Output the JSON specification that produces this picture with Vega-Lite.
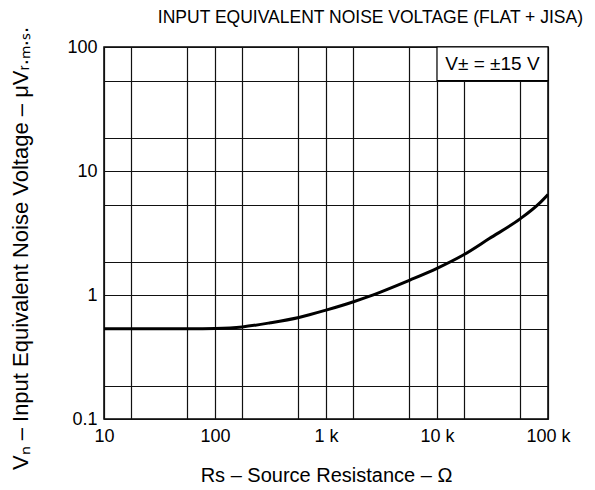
{
  "$schema": "https://vega.github.io/schema/vega-lite/v6.json",
  "width": 444,
  "height": 372,
  "autosize": "none",
  "padding": {"left": 104, "top": 47, "right": 47, "bottom": 71},
  "background": "white",
  "config": {
    "font": "Liberation Sans",
    "view": {"stroke": "black", "strokeWidth": 1.5},
    "axis": {
      "grid": true,
      "gridColor": "#111111",
      "gridWidth": 1.2,
      "gridOpacity": 1,
      "ticks": false,
      "domain": false,
      "labelColor": "black",
      "titleColor": "black",
      "titleFontWeight": "normal",
      "labelFlush": false,
      "labelOverlap": false,
      "labelBound": false
    }
  },
  "title": {
    "text": "INPUT EQUIVALENT NOISE VOLTAGE (FLAT + JISA)",
    "anchor": "end",
    "frame": "group",
    "dx": 35,
    "dy": 20,
    "offset": 20,
    "font": "Liberation Sans",
    "fontSize": 17.5,
    "fontWeight": "normal",
    "color": "black"
  },
  "datasets": {
    "curve": [
      {"rs": 10, "vn": 0.535},
      {"rs": 30, "vn": 0.535},
      {"rs": 60, "vn": 0.535},
      {"rs": 100, "vn": 0.538},
      {"rs": 176, "vn": 0.553},
      {"rs": 316, "vn": 0.597},
      {"rs": 570, "vn": 0.659},
      {"rs": 1000, "vn": 0.755},
      {"rs": 1770, "vn": 0.883},
      {"rs": 2440, "vn": 0.975},
      {"rs": 5700, "vn": 1.32},
      {"rs": 10000, "vn": 1.64},
      {"rs": 17400, "vn": 2.11},
      {"rs": 29600, "vn": 2.85},
      {"rs": 56000, "vn": 4.11},
      {"rs": 84500, "vn": 5.54},
      {"rs": 100000, "vn": 6.47}
    ],
    "box": [
      {"x1": 10000, "x2": 100000, "y1": 53.5, "y2": 100, "xc": 31600, "yc": 73, "label": "V± = ±15 V"}
    ]
  },
  "layer": [
    {
      "data": {"name": "curve"},
      "mark": {"type": "line", "color": "black", "strokeWidth": 3, "interpolate": "monotone", "clip": true},
      "encoding": {
        "x": {
          "field": "rs",
          "type": "quantitative",
          "scale": {"type": "log", "domain": [10, 100000], "nice": false},
          "axis": {
            "title": "Rs – Source Resistance – Ω",
            "values": [10, 17.4, 56, 100, 174, 560, 1000, 1740, 5600, 10000, 17400, 56000, 100000],
            "labelExpr": "datum.value == 10 ? '10' : datum.value == 100 ? '100' : datum.value == 1000 ? '1 k' : datum.value == 10000 ? '10 k' : datum.value == 100000 ? '100 k' : ''",
            "labelFontSize": 18,
            "labelPadding": 8,
            "titleFontSize": 20,
            "titlePadding": 20
          }
        },
        "y": {
          "field": "vn",
          "type": "quantitative",
          "scale": {"type": "log", "domain": [0.1, 100], "nice": false},
          "axis": {
            "title": "Vₙ – Input Equivalent Noise Voltage – μVᵣ.ₘ.ₛ.",
            "values": [0.1, 0.185, 0.535, 1, 1.85, 5.35, 10, 18.5, 53.5, 100],
            "labelExpr": "datum.value == 100 ? '100' : datum.value == 10 ? '10' : datum.value == 1 ? '1' : datum.value == 0.1 ? '0.1' : ''",
            "labelFontSize": 18,
            "labelPadding": 7,
            "titleFontSize": 22,
            "titlePadding": 34,
            "titleY": 201
          }
        }
      }
    },
    {
      "data": {"name": "box"},
      "mark": {"type": "rect", "fill": "white", "stroke": "black", "strokeWidth": 1.2},
      "encoding": {
        "x": {"field": "x1", "type": "quantitative"},
        "x2": {"field": "x2"},
        "y": {"field": "y1", "type": "quantitative"},
        "y2": {"field": "y2"}
      }
    },
    {
      "data": {"name": "box"},
      "mark": {"type": "text", "fontSize": 19, "color": "black", "align": "center", "baseline": "middle"},
      "encoding": {
        "x": {"field": "xc", "type": "quantitative"},
        "y": {"field": "yc", "type": "quantitative"},
        "text": {"field": "label"}
      }
    }
  ]
}
